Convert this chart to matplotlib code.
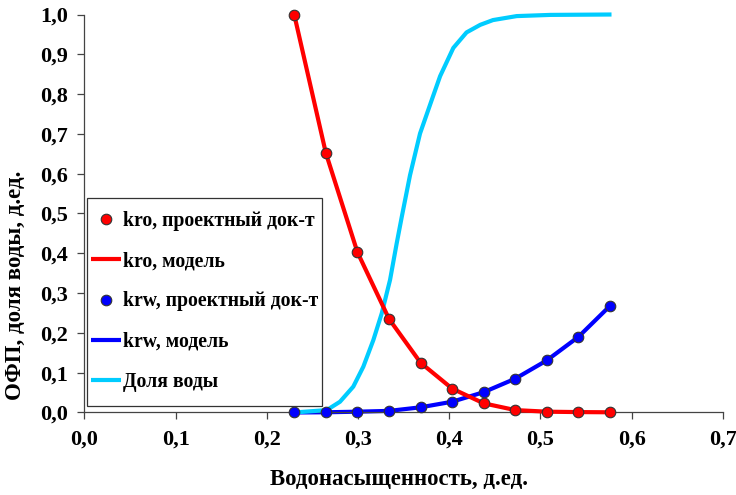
import matplotlib
matplotlib.use("Agg")
import matplotlib.pyplot as plt
from matplotlib.ticker import FuncFormatter, MultipleLocator
from matplotlib.patches import Rectangle
from matplotlib.transforms import IdentityTransform

# Data
sw = [0.230, 0.2647, 0.2993, 0.334, 0.3686, 0.4032, 0.4378, 0.4725, 0.5071, 0.5417, 0.5764]
kro = [1.0, 0.652, 0.403, 0.235, 0.125, 0.060, 0.023, 0.006, 0.002, 0.001, 0.0005]
krw = [0.0, 0.0005, 0.002, 0.004, 0.013, 0.027, 0.051, 0.085, 0.131, 0.190, 0.268]

fw_x = [0.230, 0.2657, 0.2802, 0.2948, 0.3058, 0.3168, 0.326, 0.3351, 0.3424, 0.348,
        0.357, 0.368, 0.3808, 0.390, 0.4045, 0.419, 0.434, 0.448, 0.474, 0.511, 0.578]
fw_y = [0.0, 0.006, 0.027, 0.065, 0.115, 0.182, 0.249, 0.333, 0.425, 0.492,
        0.596, 0.701, 0.785, 0.845, 0.916, 0.955, 0.974, 0.986, 0.996, 0.999, 1.0]

labels = ["kro, проектный док-т", "kro, модель", "krw, проектный док-т",
          "krw, модель", "Доля воды"]
x_label = "Водонасыщенность, д.ед."
y_label = "ОФП, доля воды, д.ед."

plt.rcParams['font.family'] = ['Liberation Serif', 'DejaVu Serif']
plt.rcParams['font.weight'] = 'bold'

fig = plt.figure(figsize=(7.36, 4.95), dpi=100)
ax = fig.add_axes([0.1148, 0.1667, 0.8672, 0.804])

lw = 3.0
ms = 7.6
red = '#ff0000'
blue = '#0000ff'
cyan = '#00ccff'

l_krw, = ax.plot(sw, krw, color=blue, lw=lw, zorder=2, solid_capstyle='butt')
l_fw, = ax.plot(fw_x, fw_y, color=cyan, lw=lw, zorder=3, solid_capstyle='butt',
                solid_joinstyle='round')
l_kro, = ax.plot(sw, kro, color=red, lw=lw, zorder=4, solid_capstyle='butt',
                 solid_joinstyle='round')
m_kro, = ax.plot(sw, kro, linestyle='none', marker='o', ms=ms, mfc=red,
                 mec='#333333', mew=0.8, zorder=5)
m_krw, = ax.plot(sw, krw, linestyle='none', marker='o', ms=ms, mfc=blue,
                 mec='#333333', mew=0.8, zorder=5)

ax.set_xlim(0, 0.7)
ax.set_ylim(0, 1.0)
ax.xaxis.set_major_locator(MultipleLocator(0.1))
ax.yaxis.set_major_locator(MultipleLocator(0.1))
fmt = FuncFormatter(lambda v, p: f"{v:.1f}".replace('.', ','))
ax.xaxis.set_major_formatter(fmt)
ax.yaxis.set_major_formatter(fmt)

for s in ['top', 'right']:
    ax.spines[s].set_visible(False)
for s in ['left', 'bottom']:
    ax.spines[s].set_color('#444444')
    ax.spines[s].set_linewidth(0.9)
ax.tick_params(direction='out', length=5, width=0.9, color='#444444',
               labelsize=16, pad=7)
for t in ax.get_xticklabels() + ax.get_yticklabels():
    t.set_fontweight('bold')
for ln in ax.lines:
    ln.set_clip_on(False)

ax.set_xlabel(x_label, fontsize=16.5, fontweight='bold', labelpad=14)
ax.xaxis.label.set_x(0.493)
ax.set_ylabel(y_label, fontsize=16.5, fontweight='bold')
ax.yaxis.set_label_coords(-0.0917, 0.32)

leg = ax.legend([m_kro, l_kro, m_krw, l_krw, l_fw], labels,
                loc='center left', bbox_to_anchor=(0.0039, 0.279),
                prop={'weight': 'bold', 'size': 14.2},
                frameon=False, borderpad=0.2, labelspacing=1.02,
                handlelength=1.5, handletextpad=0.12, borderaxespad=0.0)

fig.canvas.draw()
bb = leg.get_window_extent()
frame = Rectangle((bb.x0, bb.y0 - 10), bb.width, bb.height + 19,
                  transform=IdentityTransform(), fill=False,
                  edgecolor='#333333', linewidth=0.9)
fig.add_artist(frame)

fig.savefig("out.png", dpi=100)
